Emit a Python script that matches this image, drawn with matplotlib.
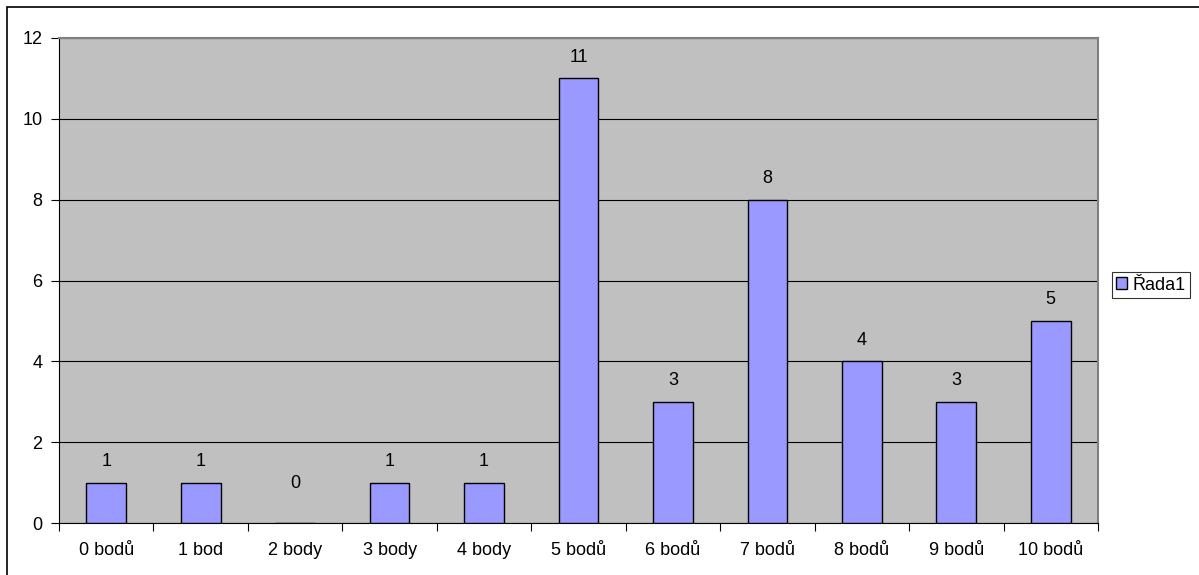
import matplotlib
matplotlib.use("Agg")
import matplotlib.pyplot as plt
from matplotlib.patches import Rectangle, Patch

categories = ["0 bodů", "1 bod", "2 body", "3 body", "4 body", "5 bodů",
              "6 bodů", "7 bodů", "8 bodů", "9 bodů", "10 bodů"]
values = [1, 1, 0, 1, 1, 11, 3, 8, 4, 3, 5]
series_name = "Řada1"

plt.rcParams["font.family"] = ["Liberation Sans", "DejaVu Sans"]

W, H = 1199, 575
fig = plt.figure(figsize=(W / 100, H / 100), dpi=100)
ax = fig.add_axes([59 / W, 1 - 523 / H, (1098 - 59) / W, (523 - 38) / H])

# outer chart border
fig.patches.append(Rectangle((7 / W, -0.05), 1.1, 1 - 7 / H + 0.05,
                             transform=fig.transFigure, fill=False,
                             edgecolor="black", lw=1.2))

fs = 13
ax.set_facecolor("#C0C0C0")
x = range(len(categories))
ax.bar(x, values, width=0.42, color="#9999FF", edgecolor="black",
       lw=1.0, label=series_name, zorder=3)
for xi, v in zip(x, values):
    # excel puts the zero label a bit higher than the others
    ax.annotate(str(v), (xi, max(v, 0.45)), xytext=(0, 9), textcoords="offset points",
                ha="center", va="bottom", fontsize=fs)

ax.set_xlim(-0.5, len(categories) - 0.5)
ax.set_ylim(0, 12)
ax.set_yticks(range(0, 13, 2))
ax.yaxis.grid(True, color="black", lw=0.8, zorder=1)
ax.set_xticks(x)
ax.set_xticklabels(categories, fontsize=fs)
ax.set_xticks([i - 0.5 for i in range(len(categories) + 1)], minor=True)
ax.tick_params(axis="x", which="major", length=0, pad=14)
ax.tick_params(axis="x", which="minor", length=6, direction="out", width=0.8)
ax.tick_params(axis="y", length=6, direction="out", width=0.8, labelsize=fs, pad=6)

for s in ["top", "right"]:
    ax.spines[s].set_color("#808080")
    ax.spines[s].set_linewidth(1.5)
for s in ["left", "bottom"]:
    ax.spines[s].set_color("black")
    ax.spines[s].set_linewidth(0.8)

leg = fig.legend(handles=[Patch(facecolor="#9999FF", edgecolor="black", label=series_name)],
                 loc="center", bbox_to_anchor=(1151 / W, 1 - 285 / H),
                 fontsize=fs, frameon=True, fancybox=False, edgecolor="black",
                 handlelength=0.6, handleheight=0.6, handletextpad=0.3,
                 borderpad=0.25, borderaxespad=0)
leg.get_frame().set_linewidth(0.8)

fig.savefig("out.png", dpi=100)
